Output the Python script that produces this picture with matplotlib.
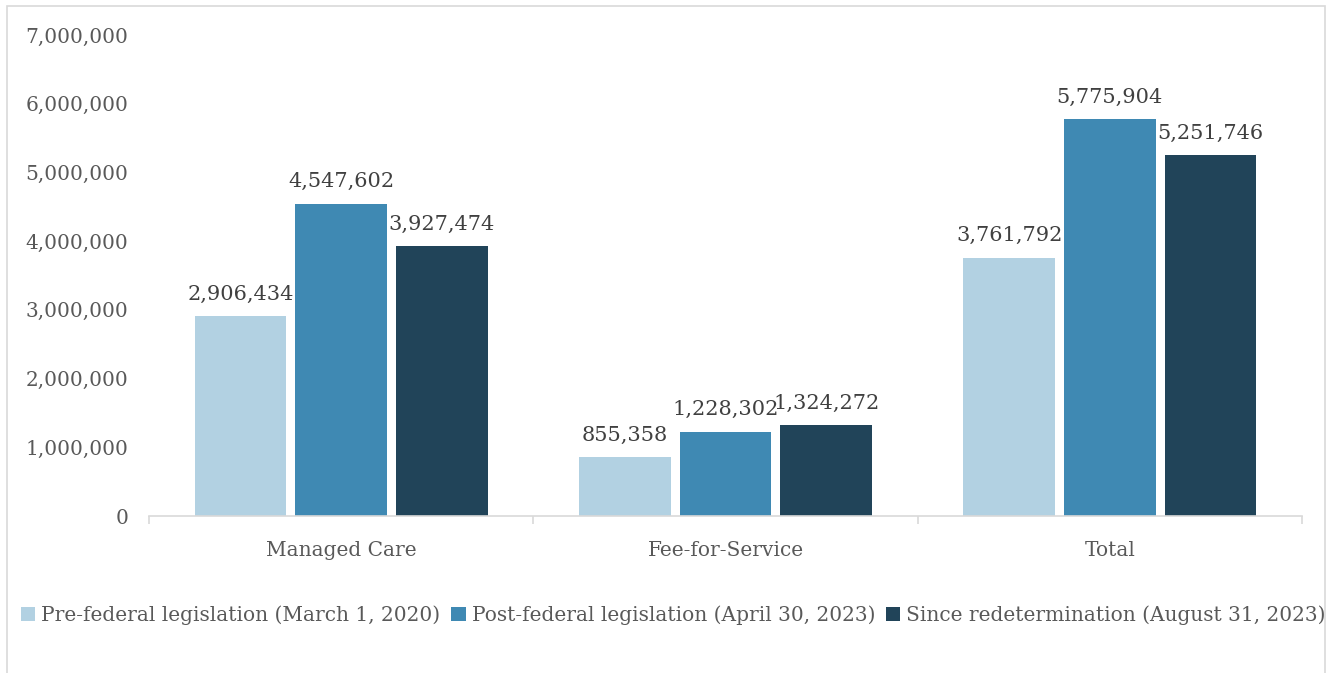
import matplotlib
matplotlib.use("Agg")
import matplotlib.pyplot as plt
from matplotlib.patches import Rectangle
from matplotlib.ticker import FuncFormatter, FixedLocator
import numpy as np

categories = ["Managed Care", "Fee-for-Service", "Total"]
series_names = ["Pre-federal legislation (March 1, 2020)",
                "Post-federal legislation (April 30, 2023)",
                "Since redetermination (August 31, 2023)"]
pre_values = [2906434, 855358, 3761792]
post_values = [4547602, 1228302, 5775904]
since_values = [3927474, 1324272, 5251746]
colors = ["#b2d1e2", "#3f89b3", "#214459"]

plt.rcParams['font.family'] = ['DejaVu Serif']
fig = plt.figure(figsize=(13.34, 6.73), dpi=100)
ax = fig.add_axes([149/1334, 1-516/673, (1302-149)/1334, (516-35)/673])

x = np.arange(len(categories))
step = 0.262
width = 0.239
all_series = [pre_values, post_values, since_values]
for i, (vals, name, c) in enumerate(zip(all_series, series_names, colors)):
    pos = x + (i - 1) * step
    bars = ax.bar(pos, vals, width=width, color=c, label=name, zorder=2)
    for b, v in zip(bars, vals):
        ax.annotate(f"{v:,}", (b.get_x() + b.get_width()/2, v),
                    xytext=(0, 9), textcoords="offset points",
                    ha="center", va="bottom", fontsize=15, color="#404040")

ax.set_xlim(-0.5, 2.5)
ax.set_ylim(0, 7000000)
ax.set_yticks(np.arange(0, 7000001, 1000000))
ax.yaxis.set_major_formatter(FuncFormatter(lambda v, p: f"{int(v):,}"))
ax.tick_params(axis='y', length=0, pad=15, labelsize=14.5, labelcolor="#595959")
ax.set_xticks(x)
ax.set_xticklabels(categories)
ax.tick_params(axis='x', length=0, pad=18, labelsize=14.5, labelcolor="#595959")
ax.xaxis.set_minor_locator(FixedLocator([-0.5, 0.5, 1.5, 2.5]))
ax.tick_params(axis='x', which='minor', length=6, color="#d9d9d9", width=1.2)
for s in ["top", "right", "left"]:
    ax.spines[s].set_visible(False)
ax.spines["bottom"].set_color("#d9d9d9")
ax.spines["bottom"].set_linewidth(1.2)

leg = fig.legend(loc="center", bbox_to_anchor=(673.5/1334, 1-615/673), ncol=3, frameon=False,
                 fontsize=14.5, handlelength=0.7, handleheight=0.7, handletextpad=0.3,
                 columnspacing=0.55, labelcolor="#595959")

fig.patches.append(Rectangle((7/1334, -0.1), (1325-7)/1334, 1.1 - 6/673,
                             transform=fig.transFigure, fill=False,
                             edgecolor="#d9d9d9", linewidth=1.2, clip_on=False))

fig.savefig("out.png", dpi=100)
